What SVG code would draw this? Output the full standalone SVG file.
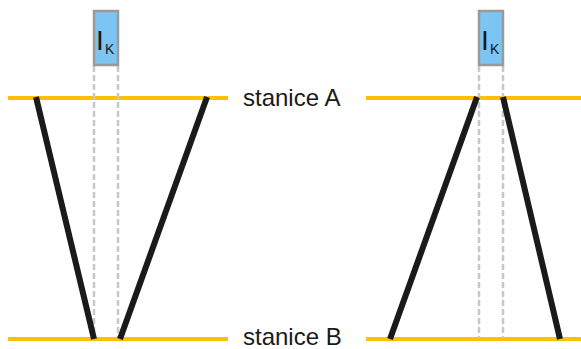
<svg xmlns="http://www.w3.org/2000/svg" width="581" height="349" viewBox="0 0 581 349">
<style>
.rail{stroke:#FFC000;stroke-width:4;fill:none}
.guide{stroke:#C8C8C8;stroke-width:2.5;stroke-dasharray:6,3;fill:none}
.beam{stroke:#1A1A1A;stroke-width:6;fill:none}
.box{fill:#7CC4F2;stroke:#9A9A9A;stroke-width:2.5}
.lbl{font-family:"Liberation Sans",Arial,sans-serif;font-size:24px;fill:#1A1A1A}
.ik{font-family:"Liberation Sans",Arial,sans-serif;fill:#1A1A1A}
</style>
<rect width="581" height="349" fill="#FFFFFF"/>
<g id="rails">
<line class="rail" x1="8" y1="98" x2="228" y2="98"/>
<line class="rail" x1="366" y1="98" x2="581" y2="98"/>
<line class="rail" x1="8" y1="339" x2="228" y2="339"/>
<line class="rail" x1="366" y1="339" x2="581" y2="339"/>
</g>
<g id="connectors">
<line class="guide" x1="94" y1="66" x2="94" y2="338"/>
<line class="guide" x1="118" y1="66" x2="118" y2="338"/>
<line class="guide" x1="479" y1="66" x2="479" y2="338"/>
<line class="guide" x1="503" y1="66" x2="503" y2="338"/>
<line class="beam" x1="36" y1="97" x2="94" y2="339"/>
<line class="beam" x1="207" y1="97" x2="120" y2="339"/>
<line class="beam" x1="477" y1="97" x2="390" y2="339"/>
<line class="beam" x1="503" y1="97" x2="560" y2="339"/>
</g>
<g id="node-ik-left">
<rect class="box" x="94" y="11" width="24" height="54"/>
<text class="ik" x="96" y="50" font-size="28">I</text>
<text class="ik" x="105" y="54" font-size="14">K</text>
</g>
<g id="node-ik-right">
<rect class="box" x="479" y="11" width="24" height="54"/>
<text class="ik" x="481" y="50" font-size="28">I</text>
<text class="ik" x="490" y="54" font-size="14">K</text>
</g>
<g id="node-station-a">
<text class="lbl" x="243" y="106">stanice A</text>
</g>
<g id="node-station-b">
<text class="lbl" x="243" y="345">stanice B</text>
</g>
</svg>
